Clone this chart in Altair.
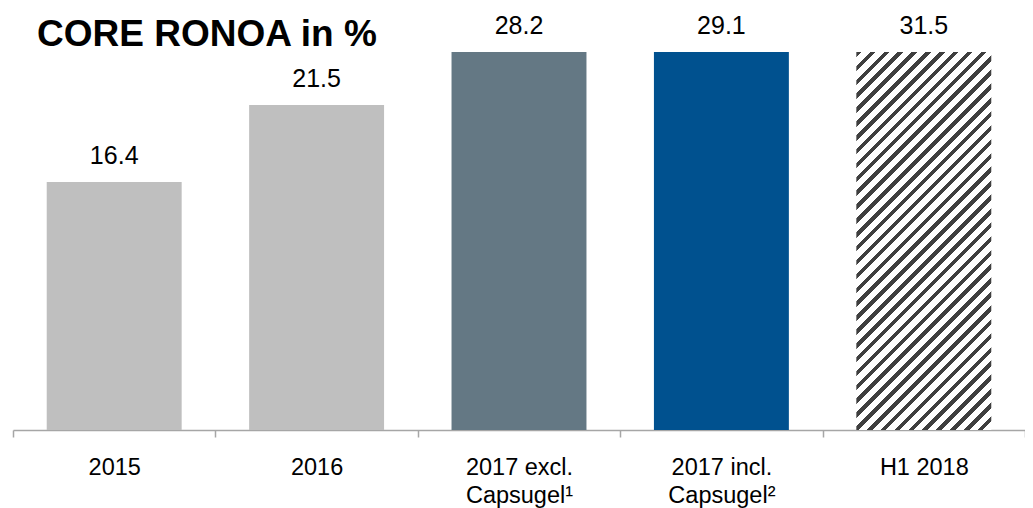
import math
import altair as alt
import pandas as pd

# ---- data ----
categories = ["2015", "2016", "2017 excl.|Capsugel¹", "2017 incl.|Capsugel²", "H1 2018"]
values = [16.4, 21.5, 28.2, 29.1, 31.5]
label_texts = ["16.4", "21.5", "28.2", "29.1", "31.5"]
solid_colors = ["#bfbfbf", "#bfbfbf", "#647884", "#00518f"]
hatched_category = "H1 2018"
axis_cap = 25.0  # the value axis is cut here; taller bars are truncated

df = pd.DataFrame({"cat": categories, "value": values, "label": label_texts})

# ---- layout ----
PLOT_W, PLOT_H = 1012, 378
BAR_FRAC = 0.6667
FONT = "Liberation Sans"

# diagonal hatching as a hard-stop linear gradient (objectBoundingBox units)
bw = PLOT_W / len(categories) * BAR_FRAC
bh = PLOT_H
k = (1 / bh + 1 / bw) / (1 / bh ** 2 + 1 / bw ** 2)
gx2, gy2 = k / bh, k / bw
n_stripes = 37
dark_frac = 0.4
stops = []
for i in range(n_stripes):
    a = i / n_stripes
    b = (i + dark_frac) / n_stripes
    c = (i + 1) / n_stripes
    stops += [
        {"offset": a, "color": "#3f3f3f"},
        {"offset": b, "color": "#3f3f3f"},
        {"offset": b, "color": "#ffffff"},
        {"offset": c, "color": "#ffffff"},
    ]
hatch = {"gradient": "linear", "x1": 0, "y1": 0, "x2": gx2, "y2": gy2, "stops": stops}

x_enc = alt.X(
    "cat:N",
    sort=categories,
    scale=alt.Scale(paddingInner=0, paddingOuter=0),
    axis=alt.Axis(
        title=None,
        labelAngle=0,
        tickBand="extent",
        labelExpr="split(datum.label, '|')",
        labelFont=FONT,
        labelFontSize=23.5,
        labelColor="#000000",
        labelPadding=18.5,
        labelLineHeight=28,
        labelBaseline="top",
        labelLimit=400,
        labelFlush=False,
        labelOverlap=False,
        tickSize=7,
        tickColor="#a6a6a6",
        tickWidth=1.5,
        domainColor="#a6a6a6",
        domainWidth=1.5,
    ),
)
y_enc = alt.Y("shown:Q", scale=alt.Scale(domain=[0, axis_cap]), axis=None)

base = alt.Chart(df).transform_calculate(shown=f"min(datum.value, {axis_cap})")

solid = base.transform_filter(alt.datum.cat != hatched_category).mark_bar(
    width=alt.RelativeBandSize(BAR_FRAC), strokeWidth=0
).encode(
    x=x_enc,
    y=y_enc,
    color=alt.Color("cat:N", scale=alt.Scale(domain=categories[:4], range=solid_colors), legend=None),
)

hatched = base.transform_filter(alt.datum.cat == hatched_category).mark_bar(
    width=alt.RelativeBandSize(BAR_FRAC), strokeWidth=0, fill=hatch
).encode(x=x_enc, y=y_enc)

labels = base.mark_text(
    dy=-18, fontSize=25, font=FONT, color="#000000", baseline="alphabetic"
).encode(x=x_enc, y=y_enc, text="label:N")

chart = alt.layer(solid, hatched, labels).properties(
    width=PLOT_W,
    height=PLOT_H,
    autosize="none",
    padding={"left": 5, "top": 44, "right": 0, "bottom": 78},
    title=alt.Title(
        "CORE RONOA in %",
        anchor="start",
        frame="group",
        dx=24,
        fontSize=37,
        font=FONT,
        fontWeight="bold",
        color="#000000",
        baseline="alphabetic",
        offset=-69,
    ),
).configure_view(stroke=None)

chart.save("out.html", embed_options={"renderer": "svg", "actions": False})
